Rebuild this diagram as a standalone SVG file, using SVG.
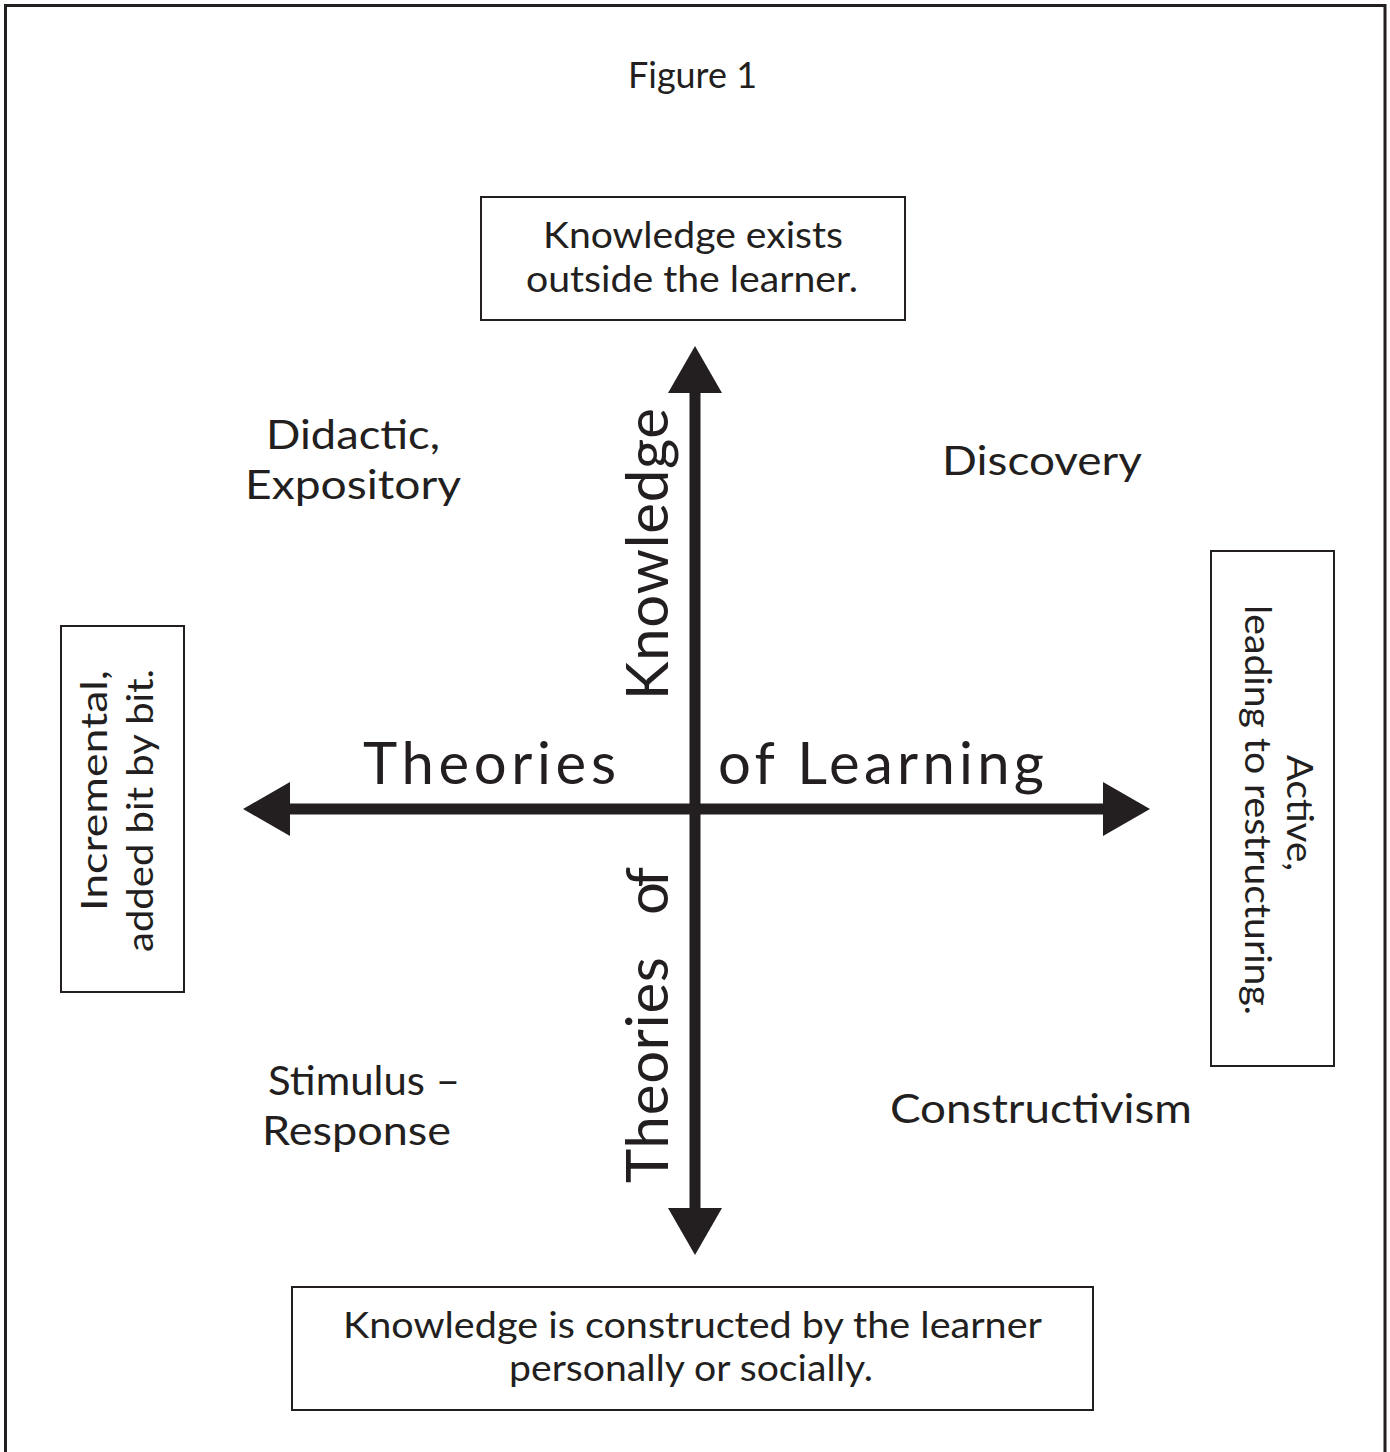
<svg xmlns="http://www.w3.org/2000/svg" width="1390" height="1452" viewBox="0 0 1390 1452">
  <style>
    .t { font-family: Lato, "Open Sans", "Liberation Sans", sans-serif; fill: #231f20; }
    .cap { font-size: 37px; }
    .quad { font-size: 41px; }
    .axis { font-size: 58px; letter-spacing: 4px; }
    .axisv { font-size: 58px; }
    .box { fill: #ffffff; stroke: #231f20; stroke-width: 2; }
    .frame { fill: none; stroke: #231f20; stroke-width: 3; }
    .shaft { fill: none; stroke: #231f20; stroke-width: 11; }
  </style>
  <defs>
    <marker id="head" markerUnits="userSpaceOnUse" markerWidth="48" markerHeight="54" refX="0" refY="27" orient="auto-start-reverse">
      <path d="M0,0 L47,27 L0,54 z" fill="#231f20"/>
    </marker>
  </defs>

  <rect width="1390" height="1452" fill="#ffffff"/>
  <rect class="frame" x="5.5" y="5.5" width="1379.5" height="1460"/>

  <text id="title" class="t cap" x="628" y="88" textLength="129" lengthAdjust="spacingAndGlyphs">Figure 1</text>

  <!-- axes -->
  <g id="connectors">
    <path class="shaft" d="M695,1208 L695,393" marker-start="url(#head)" marker-end="url(#head)"/>
    <path class="shaft" d="M290,809 L1103,809" marker-start="url(#head)" marker-end="url(#head)"/>
  </g>

  <!-- axis labels -->
  <g id="axis-labels">
    <text class="t axis" x="363" y="784" textLength="257">Theories</text>
    <text class="t axis" x="718" y="784" textLength="330">of Learning</text>
    <text class="t axisv" transform="translate(668,700) rotate(-90)" textLength="292">Knowledge</text>
    <text class="t axisv" transform="translate(668,1183) rotate(-90)" textLength="226">Theories</text>
    <text class="t axisv" transform="translate(668,915) rotate(-90)" textLength="48">of</text>
  </g>

  <g id="top-box">
    <rect class="box" x="481" y="197" width="424" height="123"/>
    <text class="t cap" x="543" y="248" textLength="300" lengthAdjust="spacingAndGlyphs">Knowledge exists</text>
    <text class="t cap" x="526" y="292" textLength="332" lengthAdjust="spacingAndGlyphs">outside the learner.</text>
  </g>

  <g id="bottom-box">
    <rect class="box" x="292" y="1287" width="801" height="123"/>
    <text class="t cap" x="343" y="1338" textLength="699" lengthAdjust="spacingAndGlyphs">Knowledge is constructed by the learner</text>
    <text class="t cap" x="509" y="1381" textLength="364" lengthAdjust="spacingAndGlyphs">personally or socially.</text>
  </g>

  <g id="left-box">
    <rect class="box" x="61" y="626" width="123" height="366"/>
    <text class="t cap" transform="translate(107,911) rotate(-90)" textLength="241" lengthAdjust="spacingAndGlyphs">Incremental,</text>
    <text class="t cap" transform="translate(153,952) rotate(-90)" textLength="283" lengthAdjust="spacingAndGlyphs">added bit by bit.</text>
  </g>

  <g id="right-box">
    <rect class="box" x="1211" y="551" width="123" height="515"/>
    <text class="t cap" transform="translate(1287,755) rotate(90)" textLength="116" lengthAdjust="spacingAndGlyphs">Active,</text>
    <text class="t cap" transform="translate(1245,605) rotate(90)" textLength="410" lengthAdjust="spacingAndGlyphs">leading to restructuring.</text>
  </g>

  <g id="didactic">
    <text class="t quad" x="266" y="449" textLength="174" lengthAdjust="spacingAndGlyphs">Didactic,</text>
    <text class="t quad" x="245" y="499" textLength="216" lengthAdjust="spacingAndGlyphs">Expository</text>
  </g>

  <g id="discovery">
    <text class="t quad" x="942" y="475" textLength="200" lengthAdjust="spacingAndGlyphs">Discovery</text>
  </g>

  <g id="stimulus-response">
    <text class="t quad" x="268" y="1095" textLength="192" lengthAdjust="spacingAndGlyphs">Stimulus –</text>
    <text class="t quad" x="262" y="1145" textLength="189" lengthAdjust="spacingAndGlyphs">Response</text>
  </g>

  <g id="constructivism">
    <text class="t quad" x="890" y="1123" textLength="302" lengthAdjust="spacingAndGlyphs">Constructivism</text>
  </g>
</svg>
